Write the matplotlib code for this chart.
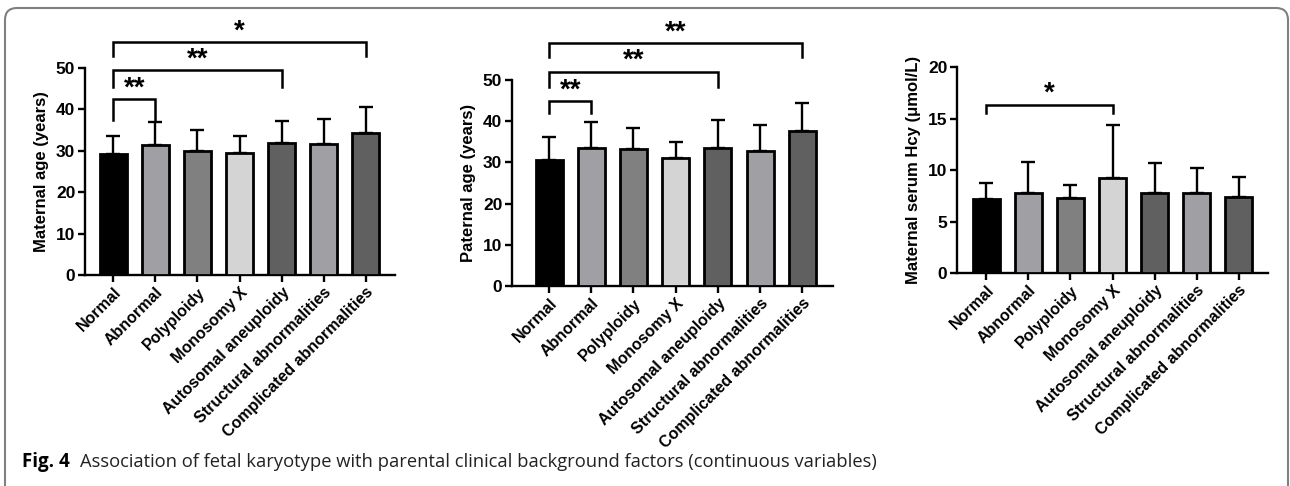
"""Fetal karyotype vs parental background factors (bar charts with SD)."""

import matplotlib
matplotlib.use("Agg")
import matplotlib.pyplot as plt
from matplotlib.patches import FancyBboxPatch

plt.rcParams['font.family'] = ['Liberation Sans', 'DejaVu Sans']

groups = ['Normal', 'Abnormal', 'Polyploidy', 'Monosomy X', 'Autosomal aneuploidy',
          'Structural abnormalities', 'Complicated abnormalities']
bar_colors = ['#000000', '#a0a0a4', '#808080', '#d4d4d4', '#606060', '#a0a0a4', '#606060']

maternal_age = [29.2, 31.5, 30.0, 29.5, 31.8, 31.6, 34.2]
maternal_age_sd = [4.4, 5.5, 5.0, 4.1, 5.5, 6.2, 6.3]

paternal_age = [30.6, 33.5, 33.2, 31.1, 33.5, 32.8, 37.6]
paternal_age_sd = [5.6, 6.4, 5.1, 3.9, 6.9, 6.3, 6.8]

hcy = [7.2, 7.8, 7.3, 9.2, 7.8, 7.8, 7.4]
hcy_sd = [1.5, 3.0, 1.2, 5.2, 2.9, 2.4, 1.9]

# (i, j, bracket height, leg bottom, label)
maternal_sig = [(0, 1, 42.4, 37.5, '**'), (0, 4, 49.4, 45.5, '**'), (0, 6, 56.2, 52.8, '*')]
paternal_sig = [(0, 1, 44.9, 42.0, '**'), (0, 4, 52.0, 48.3, '**'), (0, 6, 59.0, 55.5, '**')]
hcy_sig = [(0, 3, 16.3, 15.5, '*')]

W, H = 1290, 486
fig = plt.figure(figsize=(W / 100, H / 100), dpi=100)


def px_axes(left, right, bottom, top):
    return fig.add_axes([left / W, 1 - bottom / H, (right - left) / W, (bottom - top) / H])


def draw_panel(ax, values, sd, ylabel, ymax, ystep, xlim, sig, star_off):
    x = range(len(groups))
    ax.bar(x, values, width=0.64, color=bar_colors, edgecolor='black', linewidth=2.0, zorder=3)
    ax.errorbar(x, values, yerr=[[0] * len(sd), sd], fmt='none', ecolor='black',
                elinewidth=1.7, capsize=5, capthick=1.7, zorder=2)
    ax.set_ylim(0, ymax)
    ax.set_xlim(*xlim)
    ax.set_yticks(range(0, ymax + 1, ystep))
    ax.set_xticks(list(x))
    ax.set_xticklabels(groups, rotation=45, ha='right', rotation_mode='anchor',
                       fontsize=11.5, fontweight='bold')
    for lab in ax.get_yticklabels():
        lab.set_fontweight('bold')
        lab.set_fontsize(12.5)
    ax.set_ylabel(ylabel, fontsize=12, fontweight='bold', labelpad=5)
    for s in ['top', 'right']:
        ax.spines[s].set_visible(False)
    for s in ['left', 'bottom']:
        ax.spines[s].set_linewidth(1.7)
    ax.tick_params(direction='out', length=5, width=1.7, pad=2)
    for i, j, y, leg, label in sig:
        ax.plot([i, i, j, j], [leg, y, y, leg], color='black', lw=1.8, clip_on=False,
                solid_joinstyle='miter')
        ax.text((i + j) / 2, y + star_off, label, ha='center', va='center',
                fontsize=20, fontweight='bold', clip_on=False)


ax1 = px_axes(85, 395, 275, 68)
draw_panel(ax1, maternal_age, maternal_age_sd, 'Maternal age (years)', 50, 10,
           (-0.67, 6.69), maternal_sig, 2.6)

ax2 = px_axes(512, 833, 286, 80)
draw_panel(ax2, paternal_age, paternal_age_sd, 'Paternal age (years)', 50, 10,
           (-0.88, 6.73), paternal_sig, 2.6)

ax3 = px_axes(957, 1268, 273, 67)
draw_panel(ax3, hcy, hcy_sd, 'Maternal serum Hcy (\u03bcmol/L)', 20, 5,
           (-0.69, 6.69), hcy_sig, 1.1)

# outer frame, open at the bottom
frame = FancyBboxPatch((0.05, -0.5), 12.83, 5.28,
                       boxstyle="round,pad=0,rounding_size=0.12",
                       transform=fig.dpi_scale_trans, fill=False,
                       edgecolor='#808080', linewidth=1.5)
fig.patches.append(frame)

fig.text(22 / W, 1 - 467 / H, 'Fig. 4', fontsize=13.5, fontweight='bold',
         family=['Open Sans', 'DejaVu Sans'], va='baseline')
fig.text(80 / W, 1 - 467 / H,
         'Association of fetal karyotype with parental clinical background factors (continuous variables)',
         fontsize=13.2, family=['Open Sans', 'DejaVu Sans'], va='baseline', color='#222222')

fig.savefig('out.png', dpi=100)
